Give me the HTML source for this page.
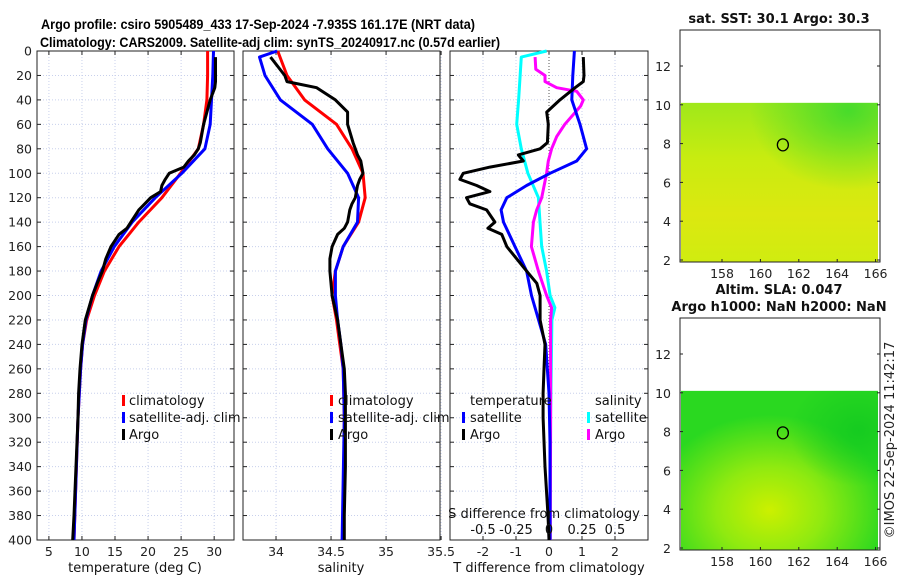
<!DOCTYPE html>
<html><head><meta charset="utf-8">
<style>
body{margin:0;background:#fff;}
svg{display:block;font-family:"DejaVu Sans","Liberation Sans",sans-serif;}
</style></head>
<body>
<svg id="fig" width="900" height="580" viewBox="0 0 900 580">
  <text x="258" y="29" font-size="14" font-weight="bold" text-anchor="middle" textLength="434" lengthAdjust="spacingAndGlyphs" font-family="Liberation Sans, sans-serif">Argo profile: csiro 5905489_433 17-Sep-2024 -7.935S 161.17E (NRT data)</text>
  <text x="270" y="47" font-size="14" font-weight="bold" text-anchor="middle" textLength="460" lengthAdjust="spacingAndGlyphs" font-family="Liberation Sans, sans-serif">Climatology: CARS2009. Satellite-adj clim: synTS_20240917.nc (0.57d earlier)</text>
  <g id="maps"></g>
  <g id="panels"></g>
  <text transform="translate(894,440) rotate(-90)" font-size="13" text-anchor="middle" fill="#222">©IMOS 22-Sep-2024 11:42:17</text>
</svg>
<script>
// ---------- data ----------
const depthTicks = [0,20,40,60,80,100,120,140,160,180,200,220,240,260,280,300,320,340,360,380,400];
const tempTicks = [5,10,15,20,25,30];
const salTicks = [34,34.5,35,35.5];
const tdiffTicks = [-2,-1,0,1,2];
const sdiffTickLabels = ["-0.5","-0.25","0","0.25","0.5"];
const sdiffTicks = [-0.5,-0.25,0,0.25,0.5];

const climDepth = [0,20,40,60,80,100,120,140,160,180,200,220,240,260,300,400];
const climTemp  = [29.0,29.0,28.9,28.4,27.6,24.9,22.1,18.6,15.6,13.4,11.9,10.7,10.1,9.8,9.4,8.8];
const satTemp   = [29.9,29.8,29.6,29.4,28.6,25.1,21.1,17.6,14.9,12.9,11.6,10.6,10.1,9.8,9.4,8.8];
const climSal   = [34.015,34.10,34.26,34.55,34.69,34.79,34.81,34.75,34.61,34.54,34.51,34.55,34.58,34.61,34.62,34.61];

const satSalDepth = [0,5,20,40,60,80,100,120,140,160,180,200,220,240,260,300,400];
const satSalShallow = [34.01,33.85,33.90,34.04,34.33,34.47,34.65,34.75,34.74,34.61,34.54,34.54,34.56,34.59,34.61,34.62,34.60];

const argoDepth = [5,20,25,30,40,50,60,75,80,85,90,95,100,105,110,115,120,125,130,140,145,150,160,170,180,190,200,220,240,260,280,300,340,380,400];
const argoTemp  = [30.2,30.2,30.2,30.1,29.4,28.9,28.4,27.9,27.6,27.0,26.1,25.4,23.2,22.6,22.1,21.9,20.4,19.5,18.6,17.4,16.8,15.6,14.4,13.6,13.1,12.3,11.6,10.5,10.0,9.7,9.5,9.4,9.1,8.8,8.6];
const argoSal   = [33.95,34.08,34.10,34.37,34.54,34.65,34.65,34.70,34.72,34.74,34.77,34.78,34.79,34.76,34.74,34.73,34.72,34.69,34.67,34.65,34.62,34.56,34.51,34.49,34.49,34.50,34.51,34.56,34.59,34.62,34.63,34.63,34.63,34.62,34.62];

const tDiffSatDepth = [0,20,40,60,80,90,100,110,120,130,140,160,180,200,240,280,320,400];
const tDiffSat = [0.77,0.72,0.69,0.94,1.14,0.84,0.03,-0.68,-1.28,-1.45,-1.38,-1.03,-0.68,-0.53,-0.1,0.0,0.03,0.03];
const tDiffArgo = [1.04,1.06,1.04,0.79,0.33,-0.07,-0.02,-0.05,-0.27,-0.93,-0.78,-1.79,-2.6,-2.7,-2.19,-1.79,-2.5,-2.4,-1.89,-1.64,-1.85,-1.43,-1.28,-0.98,-0.68,-0.37,-0.27,-0.27,-0.12,-0.15,-0.18,-0.18,-0.12,-0.03,0.0];
const sDiffSatDepth = [0,5,40,60,80,100,120,140,160,180,200,210,220,300,400];
const sDiffSat = [-0.018,-0.21,-0.23,-0.245,-0.21,-0.16,-0.08,-0.068,-0.055,-0.018,0.008,0.045,0.022,0.012,0.008];
const sDiffArgoDepth = [5,15,20,25,30,33,40,45,50,60,70,80,90,100,120,130,140,160,180,200,210,220,300,400];
const sDiffArgo = [-0.105,-0.1,-0.03,-0.03,0.058,0.21,0.26,0.24,0.2,0.12,0.058,0.02,-0.005,-0.018,-0.055,-0.093,-0.118,-0.133,-0.08,-0.018,0.02,0.012,0.012,0.01];

const lonTicks = [158,160,162,164,166];
const latTicks = [2,4,6,8,10,12];

// ---------- helpers ----------
const NS = "http://www.w3.org/2000/svg";
const panels = document.getElementById('panels');
const maps = document.getElementById('maps');
function mk(tag, attrs, parent){
  const e = document.createElementNS(NS, tag);
  for (const k in attrs) e.setAttribute(k, attrs[k]);
  parent.appendChild(e);
  return e;
}
const Y0 = 51, Y1 = 540;
function yD(d){ return Y0 + (d/400)*(Y1-Y0); }

function makePanel(name, x0, x1, dmin, dmax, ticks, tickLabels, showY){
  const sx = v => x0 + (v-dmin)/(dmax-dmin)*(x1-x0);
  const g = mk('g', {}, panels);
  
  
  ticks.forEach(t=>{
    const l = mk('line',{x1:sx(t),x2:sx(t),y1:Y0,y2:Y1,stroke:'#c8d0ec','stroke-width':1,'stroke-dasharray':'1,2'},g);
    
    
  });
  depthTicks.forEach(d=>{
    const l = mk('line',{x1:x0,x2:x1,y1:yD(d),y2:yD(d),stroke:'#c8d0ec','stroke-width':1,'stroke-dasharray':'1,2'},g);
    
    
    mk('line',{x1:x0,x2:x0+4,y1:yD(d),y2:yD(d),stroke:'#222'},g);
    mk('line',{x1:x1-4,x2:x1,y1:yD(d),y2:yD(d),stroke:'#222'},g);
    if (showY){
      const t = mk('text',{x:x0-5,y:yD(d)+4.5,'font-size':12.5,'text-anchor':'end',fill:'#222'},g);
      t.textContent = d;
      
      
    }
  });
  ticks.forEach((t,i)=>{
    mk('line',{x1:sx(t),x2:sx(t),y1:Y1,y2:Y1-4,stroke:'#222'},g);
    mk('line',{x1:sx(t),x2:sx(t),y1:Y0,y2:Y0+4,stroke:'#222'},g);
    if (tickLabels){
      const tx = mk('text',{x:sx(t),y:556,'font-size':12.5,'text-anchor':'middle',fill:'#222'},g);
      tx.textContent = tickLabels[i];
      
      
    }
  });
  const box = mk('rect',{x:x0,y:Y0,width:x1-x0,height:Y1-Y0,fill:'none',stroke:'#222','stroke-width':1},g);
  
  
  return {g, sx};
}
function line(p, name, depths, vals, color, w){
  const pts = depths.map((d,i)=>p.sx(vals[i]).toFixed(1)+','+yD(d).toFixed(1)).join(' ');
  const l = mk('polyline',{points:pts,fill:'none',stroke:color,'stroke-width':w||3,'stroke-linejoin':'round'},p.g);
  
  
}
function txt(parent, name, x, y, s, opts){
  const t = mk('text', Object.assign({x:x,y:y,'font-size':13,fill:'#111'}, opts||{}), parent);
  t.textContent = s;
  
  
  return t;
}
function legendBar(parent, name, x, y, color){
  const r = mk('rect',{x:x,y:y-10,width:3,height:11,fill:color},parent);
  
  
}

// ---------- panel 1 ----------
const p1 = makePanel('temperature-panel', 37, 234, 3.2, 33.0, tempTicks, tempTicks.map(String), true);
line(p1,'climatology-temp-line',climDepth,climTemp,'#ff0000');
line(p1,'satellite-temp-line',climDepth,satTemp,'#0000ff');
line(p1,'argo-temp-line',argoDepth,argoTemp,'#000000');
txt(p1.g,'temp-x-axis-title',135,572,'temperature (deg C)',{'text-anchor':'middle'});
legendBar(p1.g,'legend-climatology-swatch',122,405,'#ff0000');
txt(p1.g,'legend-climatology',129,405,'climatology');
legendBar(p1.g,'legend-satellite-swatch',122,422,'#0000ff');
txt(p1.g,'legend-satellite',129,422,'satellite-adj. clim');
legendBar(p1.g,'legend-argo-swatch',122,439,'#000');
txt(p1.g,'legend-argo',129,439,'Argo');

// ---------- panel 2 ----------
const p2 = makePanel('salinity-panel', 243, 440, 33.7, 35.49, salTicks, ["34","34.5","35","35.5"], false);
line(p2,'climatology-sal-line',climDepth,climSal,'#ff0000');
line(p2,'satellite-sal-line',satSalDepth,satSalShallow,'#0000ff');
line(p2,'argo-sal-line',argoDepth,argoSal,'#000000');
txt(p2.g,'sal-x-axis-title',341,572,'salinity',{'text-anchor':'middle'});
legendBar(p2.g,'legend-climatology-swatch',330,405,'#ff0000');
txt(p2.g,'legend-climatology',338,405,'climatology');
legendBar(p2.g,'legend-satellite-swatch',330,422,'#0000ff');
txt(p2.g,'legend-satellite',338,422,'satellite-adj. clim');
legendBar(p2.g,'legend-argo-swatch',330,439,'#000');
txt(p2.g,'legend-argo',338,439,'Argo');

// ---------- panel 3 ----------
const p3 = makePanel('difference-panel', 450, 648, -3.0, 3.0, tdiffTicks, tdiffTicks.map(String), false);
const zl = mk('line',{x1:p3.sx(0),x2:p3.sx(0),y1:Y0,y2:Y1,stroke:'#555','stroke-width':1,'stroke-dasharray':'1,2'},p3.g);


const sScale = v => v*4;
line(p3,'satellite-sdiff-line',sDiffSatDepth,sDiffSat.map(sScale),'#00ffff');
line(p3,'argo-sdiff-line',sDiffArgoDepth,sDiffArgo.map(sScale),'#ff00ff');
line(p3,'satellite-tdiff-line',tDiffSatDepth,tDiffSat,'#0000ff');
line(p3,'argo-tdiff-line',argoDepth,tDiffArgo,'#000000');
txt(p3.g,'t-diff-x-axis-title',549,572,'T difference from climatology',{'text-anchor':'middle'});
txt(p3.g,'s-diff-axis-title',544,518,'S difference from climatology',{'text-anchor':'middle'});
sdiffTicks.forEach((s,i)=>{
  txt(p3.g,'s-diff-tick-label',p3.sx(sScale(s)),534,sdiffTickLabels[i],{'text-anchor':'middle'});
});
txt(p3.g,'legend-temperature-header',470,405,'temperature');
legendBar(p3.g,'legend-t-satellite-swatch',462,422,'#0000ff');
txt(p3.g,'legend-t-satellite',470,422,'satellite');
legendBar(p3.g,'legend-t-argo-swatch',462,439,'#000');
txt(p3.g,'legend-t-argo',470,439,'Argo');
txt(p3.g,'legend-salinity-header',595,405,'salinity');
legendBar(p3.g,'legend-s-satellite-swatch',587,422,'#00ffff');
txt(p3.g,'legend-s-satellite',595,422,'satellite');
legendBar(p3.g,'legend-s-argo-swatch',587,439,'#ff00ff');
txt(p3.g,'legend-s-argo',595,439,'Argo');

// ---------- maps ----------
function makeMap(name, top, title1, title2, grad){
  const x0=680, x1=880, y0=top, y1=top+232;
  const lat = v => y0 + 230 - (v-2)*19.4;
  const lon = v => 722 + (v-158)*19.2;
  const g = mk('g',{},maps);
  
  
  const defs = mk('defs',{},g);
  defs.innerHTML = grad;
  const d = mk('rect',{x:x0+1,y:lat(10.1),width:197,height:y1-lat(10.1),fill:'url(#'+name+'-g)'},g);
  
  
  const d2 = mk('rect',{x:x0+1,y:lat(10.1),width:197,height:y1-lat(10.1),fill:'url(#'+name+'-g2)'},g);
  
  
  mk('rect',{x:x0,y:y0,width:x1-x0,height:y1-y0,fill:'none',stroke:'#222'},g);
  latTicks.forEach(v=>{
    mk('line',{x1:x0,x2:x0+3,y1:lat(v),y2:lat(v),stroke:'#222'},g);
    mk('line',{x1:x1-3,x2:x1,y1:lat(v),y2:lat(v),stroke:'#222'},g);
    txt(g,'lat-tick-label',x0-9,lat(v)+5,String(v),{'text-anchor':'end','font-size':12.5,fill:'#222'});
  });
  lonTicks.forEach(v=>{
    mk('line',{x1:lon(v),x2:lon(v),y1:y1,y2:y1-3,stroke:'#222'},g);
    txt(g,'lon-tick-label',lon(v),y1+16,String(v),{'text-anchor':'middle','font-size':12.5,fill:'#222'});
  });
  const c = mk('ellipse',{cx:lon(161.17),cy:lat(7.935),rx:5.5,ry:6,fill:'none',stroke:'#000','stroke-width':1.3},g);
  
  
  txt(g,name+'-title',779,top-7,title1,{'text-anchor':'middle','font-weight':'bold','font-size':13});
  if (title2) txt(g,name+'-title-2',779,top-24,title2,{'text-anchor':'middle','font-weight':'bold','font-size':13});
}
makeMap('sst-map',30,'sat. SST: 30.1 Argo: 30.3',null,
 '<linearGradient id="sst-map-g" x1="0" y1="0" x2="0" y2="1"><stop offset="0" stop-color="#9fe81a"/><stop offset="0.35" stop-color="#c8ec10"/><stop offset="0.7" stop-color="#dce810"/><stop offset="1" stop-color="#d0ec10"/></linearGradient>'+
 '<radialGradient id="sst-map-g2" cx="0.85" cy="0.05" r="0.5"><stop offset="0" stop-color="#30d830" stop-opacity="0.8"/><stop offset="1" stop-color="#30d830" stop-opacity="0"/></radialGradient>');
makeMap('sla-map',318,'Argo h1000: NaN h2000: NaN','Altim. SLA: 0.047',
 '<radialGradient id="sla-map-g" cx="0.45" cy="0.75" r="0.6"><stop offset="0" stop-color="#ccf000"/><stop offset="0.45" stop-color="#90ea10"/><stop offset="1" stop-color="#2ad820"/></radialGradient>'+
 '<radialGradient id="sla-map-g2" cx="0.9" cy="0.25" r="0.35"><stop offset="0" stop-color="#10c820" stop-opacity="0.8"/><stop offset="1" stop-color="#10c820" stop-opacity="0"/></radialGradient>');
</script>
</body></html>
